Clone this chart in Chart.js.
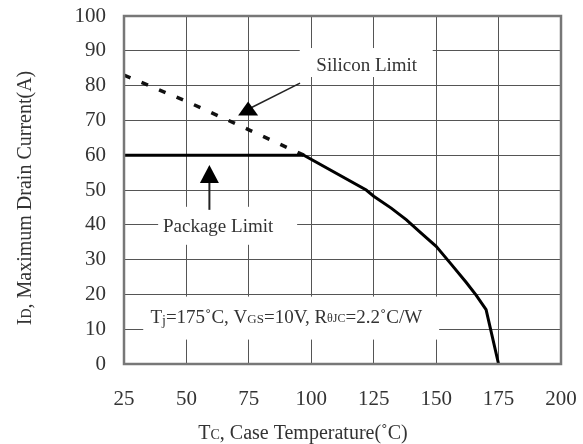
<!DOCTYPE html>
<html>
<head>
<meta charset="utf-8">
<script src="https://cdn.jsdelivr.net/npm/chart.js@4/dist/chart.umd.min.js"></script>
<style>
  html, body { margin: 0; padding: 0; background: #fff; }
</style>
</head>
<body>
<canvas id="derating" width="583" height="444"></canvas>
<script>
// Maximum drain current vs case temperature
const caseTemp = [25, 97, 122, 125, 132, 138, 144, 150, 156, 162, 166, 170, 175];
const packageCurrent = [60, 60, 50, 48.2, 44.8, 41.5, 37.6, 33.8, 28.7, 23.5, 19.8, 15.6, 0];
const siliconTemp = [25, 50, 75, 97];
const siliconCurrent = [83, 75.5, 67.3, 60];
const xTicks = [25, 50, 75, 100, 125, 150, 175, 200];
const yTicks = [0, 10, 20, 30, 40, 50, 60, 70, 80, 90, 100];

const SERIF = '"Liberation Serif", "Times New Roman", serif';
const TEXT = '#333';

function pts(xs, ys) { return xs.map((x, i) => ({ x: x, y: ys[i] })); }

// draws a run of text pieces (main text + small subscripts) centred on cx
function richText(ctx, parts, cx, baseY) {
  let w = 0;
  parts.forEach(p => { ctx.font = p.size + 'px ' + SERIF; p.w = ctx.measureText(p.t).width; w += p.w; });
  let x = cx - w / 2;
  ctx.textAlign = 'left';
  ctx.textBaseline = 'alphabetic';
  parts.forEach(p => {
    ctx.font = p.size + 'px ' + SERIF;
    ctx.fillText(p.t, x, baseY + (p.dy || 0));
    x += p.w;
  });
}

function triangle(ctx, x, top, half, h) {
  ctx.beginPath();
  ctx.moveTo(x, top);
  ctx.lineTo(x + half, top + h);
  ctx.lineTo(x - half, top + h);
  ctx.closePath();
  ctx.fill();
}

const decorations = {
  id: 'decorations',
  afterDraw(chart) {
    const { ctx, chartArea: a, scales: { x, y } } = chart;
    ctx.save();

    // frame
    ctx.strokeStyle = '#777';
    ctx.lineWidth = 2.5;
    ctx.strokeRect(a.left, a.top, a.right - a.left, a.bottom - a.top);

    ctx.fillStyle = TEXT;
    ctx.strokeStyle = '#222';

    // "Silicon Limit" label and arrow
    let cx = x.getPixelForValue(122.2), cy = y.getPixelForValue(86.2);
    ctx.fillStyle = '#fff';
    ctx.fillRect(cx - 67, cy - 16, 133, 29);
    ctx.fillStyle = TEXT;
    richText(ctx, [{ t: 'Silicon Limit', size: 19 }], cx, cy + 7);
    ctx.lineWidth = 1.5;
    ctx.beginPath();
    ctx.moveTo(x.getPixelForValue(95.5), y.getPixelForValue(80.7));
    ctx.lineTo(x.getPixelForValue(75.5), y.getPixelForValue(73.5));
    ctx.stroke();
    ctx.fillStyle = '#000';
    triangle(ctx, x.getPixelForValue(74.7), y.getPixelForValue(75.4), 10, 14);

    // "Package Limit" label and arrow
    cx = x.getPixelForValue(62.7); cy = y.getPixelForValue(40);
    ctx.fillStyle = '#fff';
    ctx.fillRect(cx - 60, cy - 18, 139, 38);
    ctx.fillStyle = TEXT;
    richText(ctx, [{ t: 'Package Limit', size: 19 }], cx, cy + 7);
    ctx.lineWidth = 2;
    ctx.beginPath();
    const ax = x.getPixelForValue(59.2);
    ctx.moveTo(ax, y.getPixelForValue(53));
    ctx.lineTo(ax, y.getPixelForValue(44.3));
    ctx.stroke();
    ctx.fillStyle = '#000';
    triangle(ctx, ax, y.getPixelForValue(57.2), 9.5, 18);

    // test conditions
    cx = x.getPixelForValue(90); cy = y.getPixelForValue(14.2);
    ctx.fillStyle = '#fff';
    ctx.fillRect(x.getPixelForValue(32.7), cy - 18, x.getPixelForValue(151.2) - x.getPixelForValue(32.7), 43);
    ctx.fillStyle = TEXT;
    richText(ctx, [
      { t: 'T', size: 19 }, { t: 'j', size: 14, dy: 2 }, { t: '=175˚C, V', size: 19 },
      { t: 'GS', size: 13 }, { t: '=10V, R', size: 19 }, { t: 'θJC', size: 12, dy: -1 },
      { t: '=2.2˚C/W', size: 19 }
    ], cx, cy + 8);

    // axis titles
    ctx.fillStyle = TEXT;
    richText(ctx, [{ t: 'T', size: 20 }, { t: 'C', size: 14 }, { t: ', Case Temperature(˚C)', size: 20 }], 303, 439);
    ctx.translate(31, 198);
    ctx.rotate(-Math.PI / 2);
    richText(ctx, [{ t: 'I', size: 20 }, { t: 'D', size: 14 }, { t: ', Maximum Drain Current(A)', size: 20 }], 0, 0);

    ctx.restore();
  }
};

new Chart(document.getElementById('derating'), {
  type: 'line',
  data: {
    datasets: [
      { label: 'Package Limit', data: pts(caseTemp, packageCurrent), borderColor: '#000', borderWidth: 3,
        pointRadius: 0, tension: 0, fill: false },
      { label: 'Silicon Limit', data: pts(siliconTemp, siliconCurrent), borderColor: '#111', borderWidth: 3.5,
        borderDash: [7, 12], pointRadius: 0, tension: 0, fill: false }
    ]
  },
  options: {
    responsive: false,
    animation: false,
    devicePixelRatio: 1,
    layout: { padding: { top: 16, right: 22, left: 0, bottom: 0 } },
    plugins: { legend: { display: false }, tooltip: { enabled: false } },
    scales: {
      x: {
        type: 'linear', min: 25, max: 200,
        afterBuildTicks: s => { s.ticks = xTicks.map(v => ({ value: v })); },
        afterFit: s => { s.height = 80; s.paddingLeft = 0; s.paddingRight = 0; },
        ticks: { font: { family: SERIF, size: 21 }, color: TEXT, padding: 23, maxRotation: 0, autoSkip: false },
        grid: { color: '#555', lineWidth: 1, drawTicks: false },
        border: { display: false }
      },
      y: {
        min: 0, max: 100,
        afterBuildTicks: s => { s.ticks = yTicks.map(v => ({ value: v })); },
        afterFit: s => { s.width = 124; s.paddingTop = 0; s.paddingBottom = 0; },
        ticks: { font: { family: SERIF, size: 21 }, color: TEXT, padding: 18, autoSkip: false },
        grid: { color: '#555', lineWidth: 1, drawTicks: false },
        border: { display: false }
      }
    }
  },
  plugins: [decorations]
});
</script>
</body>
</html>
